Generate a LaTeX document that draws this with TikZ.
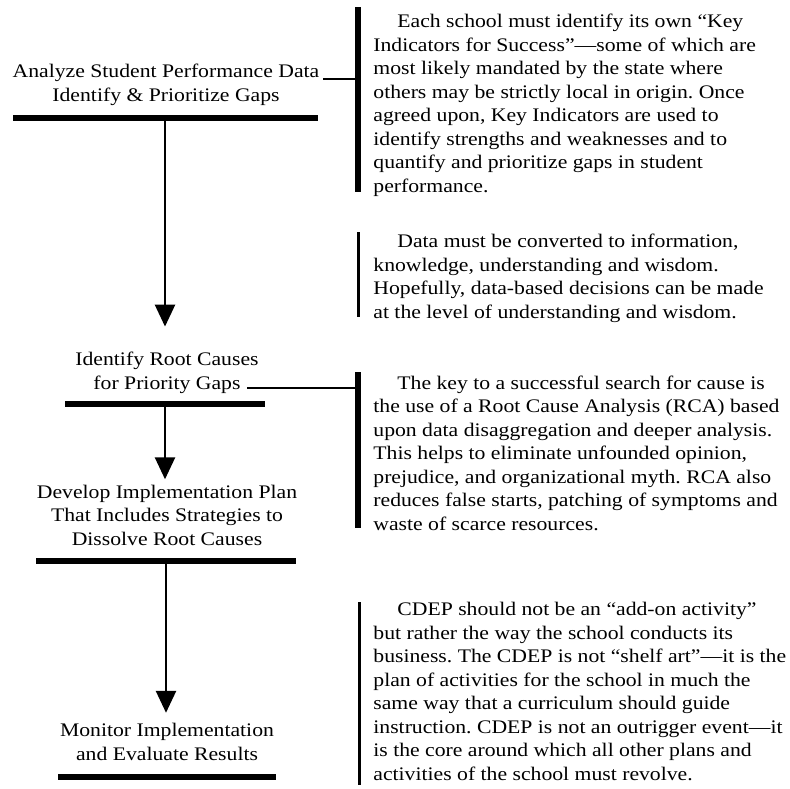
\documentclass[tikz,border=0pt]{standalone}
\usepackage{fontspec}
\setmainfont{Liberation Serif}[FakeStretch=1.13]
\usetikzlibrary{arrows.meta}
\frenchspacing

\begin{document}
\begin{tikzpicture}[
    x=0.5pt, y=-0.5pt,
    font=\fontsize{9.6}{11.75}\selectfont,
    stage/.style={
        align=center,
        inner sep=0pt,
        anchor=base
    },
    note/.style={
        align=left,
        inner sep=0pt,
        anchor=base west
    },
    stagebar/.style={
        rectangle,
        fill=black,
        inner sep=0pt,
        minimum height=3.25pt
    },
    sidebar/.style={
        rectangle,
        fill=black,
        inner sep=0pt
    },
    arrow/.style={
        -{Triangle[width=10pt,length=11pt]},
        line width=1.3pt
    },
    link/.style={
        line width=0.6pt
    }
]

\useasboundingbox (0,0) rectangle (790,788);

\node[stage] (analyze) at (166,101) {Analyze Student Performance Data\\Identify \& Prioritize Gaps};
\node[stage] (causes) at (167,389) {Identify Root Causes\\for Priority Gaps};
\node[stage] (plan) at (167,545) {Develop Implementation Plan\\That Includes Strategies to\\Dissolve Root Causes};
\node[stage] (monitor) at (167,760) {Monitor Implementation\\and Evaluate Results};

\node[stagebar, minimum width=152.5pt] (bar1) at (165,118) {};
\node[stagebar, minimum width=100pt] (bar2) at (165,404) {};
\node[stagebar, minimum width=130pt] (bar3) at (166,561) {};
\node[stagebar, minimum width=109pt] (bar4) at (167,777) {};

\node[sidebar, minimum width=3pt, minimum height=92.5pt] (side1) at (358,99.5) {};
\node[sidebar, minimum width=1.5pt, minimum height=42.5pt] (side2) at (358,274.5) {};
\node[sidebar, minimum width=3pt, minimum height=78pt] (side3) at (358,450) {};
\node[sidebar, minimum width=1.5pt, minimum height=91.5pt] (side4) at (359,693.5) {};

\node[note] (indicators) at (373,192) {\hspace*{12pt}Each school must identify its own “Key\\
Indicators for Success”—some of which are\\
most likely mandated by the state where\\
others may be strictly local in origin. Once\\
agreed upon, Key Indicators are used to\\
identify strengths and weaknesses and to\\
quantify and prioritize gaps in student\\
performance.};

\node[note] (wisdom) at (373,318) {\hspace*{12pt}Data must be converted to information,\\
knowledge, understanding and wisdom.\\
Hopefully, data-based decisions can be made\\
at the level of understanding and wisdom.};

\node[note] (rca) at (373,530) {\hspace*{12pt}The key to a successful search for cause is\\
the use of a Root Cause Analysis (RCA) based\\
upon data disaggregation and deeper analysis.\\
This helps to eliminate unfounded opinion,\\
prejudice, and organizational myth. RCA also\\
reduces false starts, patching of symptoms and\\
waste of scarce resources.};

\node[note] (cdep) at (373,780) {\hspace*{12pt}CDEP should not be an “add-on activity”\\
but rather the way the school conducts its\\
business. The CDEP is not “shelf art”—it is the\\
plan of activities for the school in much the\\
same way that a curriculum should guide\\
instruction. CDEP is not an outrigger event—it\\
is the core around which all other plans and\\
activities of the school must revolve.};

\draw[arrow, shorten >=12.5pt] (bar1.center) -- (bar1.center |- causes.north);
\draw[arrow, shorten >=2.5pt] (bar2.center) -- (bar2.center |- plan.north);
\draw[arrow, shorten >=5pt] (bar3.center) -- (bar3.center |- monitor.north);

\coordinate (analyze end) at (323,79);
\coordinate (causes end) at (247,388);

\draw[link] (analyze end) -- (analyze end -| side1.west);
\draw[link] (causes end) -- (causes end -| side3.west);

\end{tikzpicture}
\end{document}
